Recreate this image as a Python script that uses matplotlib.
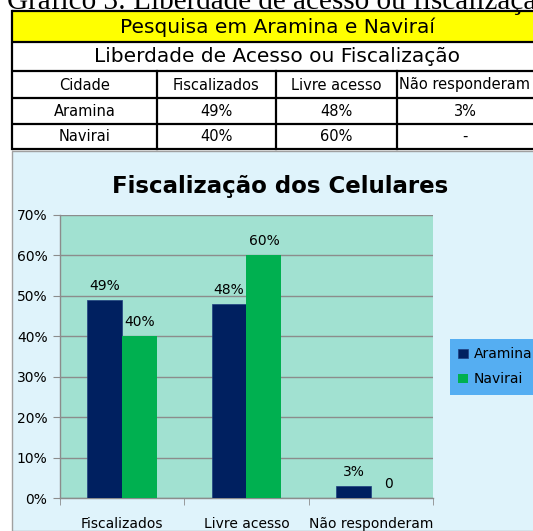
import matplotlib.pyplot as plt
from matplotlib.patches import Rectangle
import numpy as np

# Data
categories = ['Fiscalizados', 'Livre acesso', 'Não responderam']
series_names = ['Aramina', 'Navirai']
aramina = [0.49, 0.48, 0.03]
navirai = [0.40, 0.60, 0.0]
yticks = [0, 0.1, 0.2, 0.3, 0.4, 0.5, 0.6, 0.7]

table_title = 'Pesquisa em Aramina e Naviraí'
table_subtitle = 'Liberdade de Acesso ou Fiscalização'
table_header = ['Cidade', 'Fiscalizados', 'Livre acesso', 'Não responderam']
table_rows = [['Aramina', '49%', '48%', '3%'],
              ['Navirai', '40%', '60%', '-']]
caption = 'Gráfico 3: Liberdade de acesso ou fiscalização'

W, H = 533, 531
fig = plt.figure(figsize=(W / 100, H / 100), dpi=100)
fig.patch.set_facecolor('white')

# full-figure pixel axes for table and backgrounds
bg = fig.add_axes([0, 0, 1, 1])
bg.set_xlim(0, W)
bg.set_ylim(H, 0)
bg.axis('off')

# caption is partly cut off at the top, as in the original
bg.text(7, 9, caption, family='Liberation Serif', fontsize=21,
        va='baseline', ha='left')

# table grid
col_x = [12, 157, 276, 397, 548]
row_y = [11, 42, 71, 98, 124, 149]
bg.add_patch(Rectangle((12, 11), W, 31, facecolor='#FFFF00', edgecolor='none'))
lw = 1.6
for y in row_y:
    bg.plot([12, W + 5], [y, y], color='black', lw=lw, solid_capstyle='butt')
bg.plot([12, 12], [11, 149], color='black', lw=lw)
for x in col_x[1:4]:
    bg.plot([x, x], [71, 149], color='black', lw=lw)

bg.text(277, 27, table_title, ha='center', va='center', fontsize=14.5)
bg.text(277, 56.5, table_subtitle, ha='center', va='center', fontsize=14.5)
for i, t in enumerate(table_header):
    x = (col_x[i] + col_x[i + 1]) / 2
    if i == 3:
        bg.text(col_x[3] + 2, 85, t, ha='left', va='center', fontsize=10.5)
    else:
        bg.text(x, 85, t, ha='center', va='center', fontsize=10.5)
for r, row in enumerate(table_rows):
    yc = (row_y[r + 3] + row_y[r + 4]) / 2
    for i, t in enumerate(row):
        x = (col_x[i] + col_x[i + 1]) / 2
        if i == 3:
            x = 465
        bg.text(x, yc, t, ha='center', va='center', fontsize=10.5)

# chart background
bg.add_patch(Rectangle((12, 151), W, H - 151, facecolor='#DFF3FB',
                       edgecolor='#A0A0A0', lw=1))

# plot area
left, right, top, bottom = 60, 433, 215, 498
ax = fig.add_axes([left / W, (H - bottom) / H, (right - left) / W, (bottom - top) / H])
ax.set_facecolor('#A1E1D1')

x = np.arange(len(categories))
bw = 0.28
b1 = ax.bar(x - bw / 2, aramina, bw, color='#002060', edgecolor='#1F3F7F', lw=0.5,
            label=series_names[0], zorder=3)
b2 = ax.bar(x + bw / 2, navirai, bw, color='#00B050', label=series_names[1], zorder=3)

for bars, vals in [(b1, aramina), (b2, navirai)]:
    for rect, v in zip(bars, vals):
        lab = f'{v * 100:.0f}%' if v > 0 else '0'
        ax.annotate(lab, (rect.get_x() + rect.get_width() / 2, v),
                    xytext=(0, 5), textcoords='offset points',
                    ha='center', va='bottom', fontsize=10)

ax.set_xlim(-0.5, 2.5)
ax.set_ylim(0, 0.7)
ax.set_yticks(yticks)
ax.set_yticklabels([f'{t * 100:.0f}%' for t in yticks], fontsize=10)
ax.yaxis.grid(True, color='#8C8C8C', lw=1)
ax.set_axisbelow(True)
ax.set_xticks(x)
ax.set_xticklabels(categories, fontsize=10)
ax.set_xticks([-0.5, 0.5, 1.5, 2.5], minor=True)
ax.tick_params(axis='x', which='major', length=0, pad=14)
ax.tick_params(axis='x', which='minor', length=5, color='#8C8C8C', direction='out')
ax.tick_params(axis='y', length=5, color='#8C8C8C', direction='out', pad=4)
for s in ['top', 'right']:
    ax.spines[s].set_visible(False)
for s in ['left', 'bottom']:
    ax.spines[s].set_color('#8C8C8C')
    ax.spines[s].set_linewidth(1)

fig.text(280 / W, 1 - 186 / H, 'Fiscalização dos Celulares', ha='center',
         va='center', fontsize=16.5, fontweight='bold')

leg = ax.legend(loc='upper left', bbox_to_anchor=(450 / W, 1 - 339 / H),
                bbox_transform=fig.transFigure, frameon=True, fancybox=False,
                fontsize=10, handlelength=0.7, handleheight=0.7,
                handletextpad=0.4, borderpad=0.6, labelspacing=0.8,
                borderaxespad=0)
leg.get_frame().set_facecolor('#55AEF2')
leg.get_frame().set_edgecolor('none')
leg.get_frame().set_alpha(1)

fig.savefig('out.png', dpi=100)
